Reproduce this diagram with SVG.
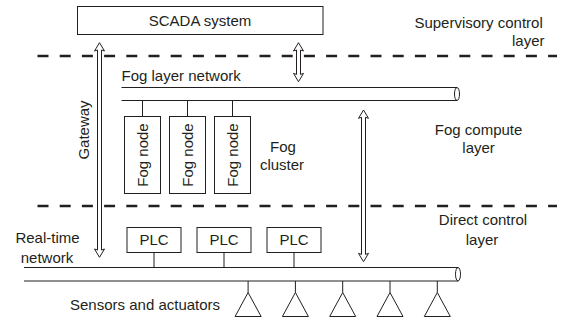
<svg xmlns="http://www.w3.org/2000/svg" width="562" height="320" viewBox="0 0 562 320">
<style>
text{font-family:"Liberation Sans",Arial,sans-serif;font-size:15px;fill:#231f20}
.box{fill:#fff;stroke:#231f20;stroke-width:1}
.ln{fill:none;stroke:#231f20;stroke-width:1}
.dash{fill:none;stroke:#231f20;stroke-width:2.7;stroke-dasharray:11 11.2}
.arr{fill:#fff;stroke:#231f20;stroke-width:1;stroke-linejoin:miter}
.tri{fill:#fff;stroke:#231f20;stroke-width:1}
</style>
<rect width="562" height="320" fill="#fff"/>
<g id="layers">
<line class="dash" x1="37.5" y1="56" x2="557" y2="56"/>
<line class="dash" x1="37.5" y1="206" x2="557" y2="206"/>
<text x="478.6" y="28" text-anchor="middle">Supervisory control</text>
<text x="512" y="46">layer</text>
<text x="478.6" y="135" text-anchor="middle">Fog compute</text>
<text x="478.6" y="153" text-anchor="middle">layer</text>
<text x="483" y="225" text-anchor="middle">Direct control</text>
<text x="482" y="245" text-anchor="middle">layer</text>
</g>
<g id="scada">
<rect class="box" x="77.5" y="6.5" width="245.5" height="28"/>
<text x="200" y="26" text-anchor="middle">SCADA system</text>
</g>
<g id="fog-network">
<line class="ln" x1="121.5" y1="87.5" x2="457" y2="87.5"/>
<line class="ln" x1="121.5" y1="100.5" x2="457" y2="100.5"/>
<ellipse class="ln" cx="457" cy="94" rx="2.5" ry="6.5"/>
<text x="121.5" y="81">Fog layer network</text>
</g>
<g id="fog-node-1">
<rect class="box" x="124.5" y="116.5" width="36" height="77"/>
<text transform="translate(147.5,155) rotate(-90)" text-anchor="middle">Fog node</text>
</g>
<g id="fog-node-2">
<rect class="box" x="169.5" y="116.5" width="36" height="77"/>
<text transform="translate(192.5,155) rotate(-90)" text-anchor="middle">Fog node</text>
</g>
<g id="fog-node-3">
<rect class="box" x="214.5" y="116.5" width="36" height="77"/>
<text transform="translate(237.5,155) rotate(-90)" text-anchor="middle">Fog node</text>
</g>
<g id="fog-cluster">
<text x="283" y="152" text-anchor="middle">Fog</text>
<text x="282" y="170" text-anchor="middle">cluster</text>
</g>
<g id="realtime-network">
<line class="ln" x1="24" y1="267.5" x2="458" y2="267.5"/>
<line class="ln" x1="24" y1="281" x2="458" y2="281"/>
<ellipse class="ln" cx="458" cy="274.25" rx="2.5" ry="6.75"/>
<text x="47.5" y="243" text-anchor="middle">Real-time</text>
<text x="47" y="263" text-anchor="middle">network</text>
</g>
<g id="plc-1">
<rect class="box" x="127" y="227.5" width="54" height="25"/>
<text x="154" y="245" text-anchor="middle">PLC</text>
</g>
<g id="plc-2">
<rect class="box" x="197" y="227.5" width="54" height="25"/>
<text x="224" y="245" text-anchor="middle">PLC</text>
</g>
<g id="plc-3">
<rect class="box" x="267" y="227.5" width="54" height="25"/>
<text x="294" y="245" text-anchor="middle">PLC</text>
</g>
<g id="sensors">
<polygon class="tri" points="248.1,292.5 235.1,316.5 261.1,316.5"/>
<polygon class="tri" points="295.4,292.5 282.4,316.5 308.4,316.5"/>
<polygon class="tri" points="342.7,292.5 329.7,316.5 355.7,316.5"/>
<polygon class="tri" points="390,292.5 377,316.5 403,316.5"/>
<polygon class="tri" points="437.3,292.5 424.3,316.5 450.3,316.5"/>
<text x="70" y="310">Sensors and actuators</text>
</g>
<g id="connectors">
<line class="ln" x1="142.5" y1="100.5" x2="142.5" y2="116.5"/>
<line class="ln" x1="187.5" y1="100.5" x2="187.5" y2="116.5"/>
<line class="ln" x1="232.5" y1="100.5" x2="232.5" y2="116.5"/>
<line class="ln" x1="154" y1="252.5" x2="154" y2="267.5"/>
<line class="ln" x1="224" y1="252.5" x2="224" y2="267.5"/>
<line class="ln" x1="294" y1="252.5" x2="294" y2="267.5"/>
<line class="ln" x1="248.1" y1="281" x2="248.1" y2="292.5"/>
<line class="ln" x1="295.4" y1="281" x2="295.4" y2="292.5"/>
<line class="ln" x1="342.7" y1="281" x2="342.7" y2="292.5"/>
<line class="ln" x1="390" y1="281" x2="390" y2="292.5"/>
<line class="ln" x1="437.3" y1="281" x2="437.3" y2="292.5"/>
<path id="gateway-arrow" class="arr" d="M97.5,50 L94.5,51 L99.5,42.7 L104.5,51 L101.5,50 L101.5,250 L104.5,249 L99.5,257.3 L94.5,249 L97.5,250 Z"/>
<path class="arr" d="M296.5,50 L293.5,51 L298.5,42.7 L303.5,51 L300.5,50 L300.5,74.4 L303.5,73.4 L298.5,81.7 L293.5,73.4 L296.5,74.4 Z"/>
<path class="arr" d="M361.5,117.3 L358.5,118.3 L363.5,110 L368.5,118.3 L365.5,117.3 L365.5,254.4 L368.5,253.4 L363.5,261.7 L358.5,253.4 L361.5,254.4 Z"/>
<text transform="translate(88.5,130) rotate(-90)" text-anchor="middle">Gateway</text>
</g>
</svg>
